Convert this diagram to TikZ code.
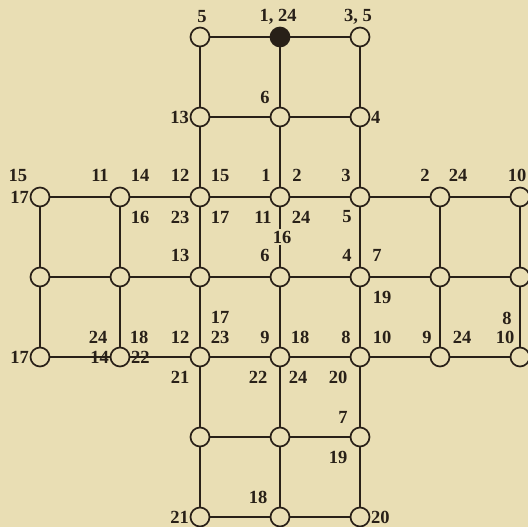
\documentclass[tikz,border=0pt]{standalone}
\usepackage{fontspec}
\setmainfont{Liberation Serif}
\definecolor{paper}{RGB}{233,222,180}
\definecolor{ink}{RGB}{40,32,24}
\begin{document}
\begin{tikzpicture}[x=1pt,y=-1pt,
  dot/.style={circle,draw=ink,fill=paper,line width=1.7pt,minimum size=19pt,inner sep=0pt},
  bdot/.style={circle,draw=ink,fill=ink,line width=1.7pt,minimum size=19pt,inner sep=0pt},
  edge/.style={draw=ink,line width=1.5pt},
  lab/.style={text=ink,font=\fontsize{18.5}{18.5}\selectfont\bfseries,inner sep=0pt}]
\fill[paper] (0,0) rectangle (528,527);
\useasboundingbox (0,0) rectangle (528,527);
% nodes
\node[dot] (a3) at (200,37) {};
\node[bdot] (a4) at (280,37) {};
\node[dot] (a5) at (360,37) {};
\foreach \r/\y in {b/117,f/437,g/517}{
  \node[dot] (\r3) at (200,\y) {};
  \node[dot] (\r4) at (280,\y) {};
  \node[dot] (\r5) at (360,\y) {};
}
\foreach \r/\y in {c/197,d/277,e/357}{
  \foreach \i in {1,...,7}{
    \node[dot] (\r\i) at ({40+80*(\i-1)},\y) {};
  }
}
% edges
\foreach \r in {a,b,f,g}{
  \draw[edge] (\r3) -- (\r4) -- (\r5);
}
\foreach \r in {c,d,e}{
  \draw[edge] (\r1) -- (\r2) -- (\r3) -- (\r4) -- (\r5) -- (\r6) -- (\r7);
}
\foreach \i in {3,4,5}{
  \draw[edge] (a\i) -- (b\i) -- (c\i);
  \draw[edge] (e\i) -- (f\i) -- (g\i);
}
\foreach \i in {1,...,7}{
  \draw[edge] (c\i) -- (d\i) -- (e\i);
}
% labels
\node[lab] (l01) at (202,17) {5};
\node[lab] (l02) at (278,17) {1, 24};
\node[lab] (l03) at (358,17) {3, 5};
\node[lab] (l04) at (265,97) {6};
\node[lab,anchor=east] (l05) at (189,117) {13};
\node[lab,anchor=west] (l06) at (371,117) {4};
\node[lab] (l07) at (18,175) {15};
\node[lab,anchor=east] (l08) at (29,197) {17};
\node[lab] (l09) at (100,175) {11};
\node[lab] (l10) at (140,175) {14};
\node[lab] (l11) at (180,175) {12};
\node[lab] (l12) at (220,175) {15};
\node[lab] (l13) at (266,175) {1};
\node[lab] (l14) at (297,175) {2};
\node[lab] (l15) at (346,175) {3};
\node[lab] (l16) at (425,175) {2};
\node[lab] (l17) at (458,175) {24};
\node[lab] (l18) at (517,175) {10};
\node[lab] (l19) at (140,217) {16};
\node[lab] (l20) at (180,217) {23};
\node[lab] (l21) at (220,217) {17};
\node[lab] (l22) at (263,217) {11};
\node[lab] (l23) at (301,217) {24};
\node[lab] (l24) at (347,217) {5};
\node[lab,fill=paper,inner sep=2pt] (l25) at (282,237) {16};
\node[lab] (l26) at (180,255) {13};
\node[lab] (l27) at (265,255) {6};
\node[lab] (l28) at (347,255) {4};
\node[lab] (l29) at (377,255) {7};
\node[lab] (l30) at (382,297) {19};
\node[lab] (l31) at (220,317) {17};
\node[lab] (l32) at (507,318) {8};
\node[lab] (l33) at (98,337) {24};
\node[lab] (l34) at (139,337) {18};
\node[lab] (l35) at (180,337) {12};
\node[lab] (l36) at (220,337) {23};
\node[lab] (l37) at (265,337) {9};
\node[lab] (l38) at (300,337) {18};
\node[lab] (l39) at (346,337) {8};
\node[lab] (l40) at (382,337) {10};
\node[lab] (l41) at (427,337) {9};
\node[lab] (l42) at (462,337) {24};
\node[lab] (l43) at (505,337) {10};
\node[lab,anchor=east] (l44) at (29,357) {17};
\node[lab,anchor=east] (l45) at (109,357) {14};
\node[lab,anchor=west] (l46) at (131,357) {22};
\node[lab] (l47) at (180,377) {21};
\node[lab] (l48) at (258,377) {22};
\node[lab] (l49) at (298,377) {24};
\node[lab] (l50) at (338,377) {20};
\node[lab] (l51) at (343,417) {7};
\node[lab] (l52) at (338,457) {19};
\node[lab] (l53) at (258,497) {18};
\node[lab,anchor=east] (l54) at (189,517) {21};
\node[lab,anchor=west] (l55) at (371,517) {20};
\end{tikzpicture}
\end{document}
